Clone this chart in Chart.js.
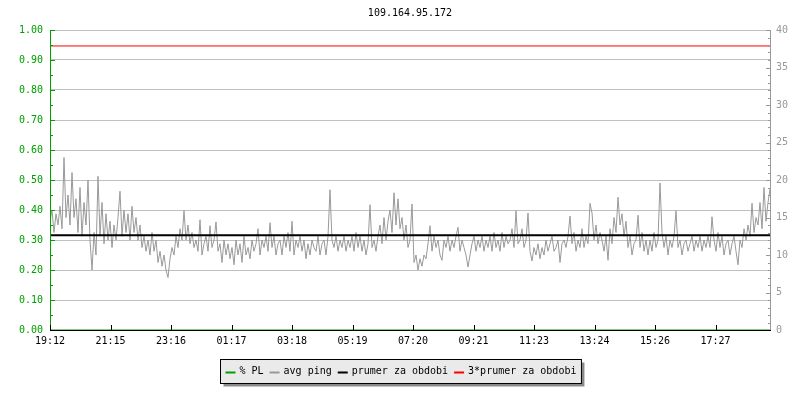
<!DOCTYPE html>
<html>
<head>
<meta charset="utf-8">
<script src="https://cdn.jsdelivr.net/npm/chart.js@4.4.0/dist/chart.umd.min.js"></script>
<style>
  html, body { margin: 0; padding: 0; background: #fff; }
  #wrap { width: 800px; height: 400px; }
</style>
</head>
<body>
<div id="wrap"><canvas id="c" width="800" height="400"></canvas></div>
<script>
const chartTitle = "109.164.95.172";

// x axis: minutes since 19:12, one ping sample every 4 minutes
const sampleMinutes = 4;
const xTickMinutes = [0, 121, 242, 363, 484, 605, 726, 847, 968, 1089, 1210, 1331];
const xTickLabels = ["19:12", "21:15", "23:16", "01:17", "03:18", "05:19",
                     "07:20", "09:21", "11:23", "13:24", "15:26", "17:27"];

// avg ping (ms), right axis
const pingValues = [
  14.5, 16, 13, 15.5, 14, 16.5, 13.5, 23, 15, 18,
  14, 21, 15, 17.5, 13, 19, 12.5, 17, 14, 20,
  12, 8, 13, 10, 20.5, 12.5, 17, 11.5, 15.5, 12,
  14.5, 11, 14, 12, 15, 18.5, 12.5, 16, 13, 15.5,
  12, 16.5, 13, 15, 12, 14, 11, 12.5, 10.5, 12,
  10, 13, 10.5, 12, 9, 10.5, 8.5, 10, 8, 7,
  9.5, 11, 10, 12.5, 11, 13.5, 12, 15.9, 12, 14,
  11.5, 13, 11, 12, 10.5, 14.7, 10, 11.5, 12.5, 10.5,
  13.9, 11, 12, 14.4, 10.5, 11.5, 9, 12, 10, 11.5,
  9.5, 11, 8.7, 12, 10, 11.5, 9, 12.5, 10, 11,
  9.5, 12, 10.5, 11.5, 13.5, 10, 12, 11, 12.5, 10.5,
  14.3, 11, 12.5, 10, 11.5, 12, 10, 12.5, 11, 13,
  10.5, 14.5, 10, 12, 11, 12.5, 10.5, 12, 9.5, 11.5,
  10, 12, 11, 10.5, 12.5, 10, 11.5, 12, 10, 12.5,
  18.7, 12, 11, 12.5, 10.5, 12, 11, 12.5, 10.5, 12,
  11, 12.5, 10.5, 13, 11, 12.5, 10.5, 12, 10, 11.5,
  16.7, 11, 12, 10.5, 12.5, 14, 11.5, 15, 12, 14.5,
  16, 13, 18.3, 14, 17.5, 13.5, 15, 12, 14, 11,
  12, 16.8, 9, 10, 8, 9.5, 8.5, 10, 9.5, 11.5,
  13.9, 10.5, 12.5, 11, 12, 10, 9.3, 12, 11, 12.5,
  10.5, 12, 11, 12.5, 13.7, 10.5, 12, 11, 10, 8.4,
  10, 11.5, 12.5, 10.5, 12, 11, 12.5, 10.5, 12, 11,
  12.5, 10.5, 13, 11, 12, 10.5, 13, 11, 12.5, 11.5,
  12, 13.5, 11, 15.9, 11.5, 12, 13.5, 11, 12, 15.6,
  10.5, 9.2, 11, 10, 11.5, 9.5, 11, 10, 12, 10.5,
  11.5, 12.5, 10.5, 11, 12, 9, 11.5, 12, 11, 12.5,
  15.2, 11.5, 13, 10.5, 12, 11, 13.5, 11, 12.5, 11.5,
  16.9, 15.6, 12, 14, 11.5, 13, 12, 10.5, 12.5, 9.3,
  13.5, 11.5, 15, 13, 17.7, 14, 15.5, 12.5, 14.5, 11,
  12.5, 10, 11.5, 12, 15.3, 11, 13, 10.5, 12, 10,
  12, 10.5, 13, 11, 12, 19.6, 13, 11, 12.5, 10,
  12, 11, 12.5, 15.9, 11, 12, 10, 11.5, 12, 10.5,
  11.5, 12.5, 10.5, 12, 11, 12.5, 10.5, 12, 11, 12.5,
  11, 15.1, 12, 10.5, 13, 11, 12.5, 10, 11.5, 12,
  10, 11.5, 12.5, 10.5, 8.7, 12, 11, 13.5, 12, 14,
  12.5, 16.9, 13, 15, 14, 17, 13.5, 19, 14.5, 17,
  18.8
];
// packet loss (fraction), left axis: none during the period
const plValues = [0, 0];
const meanPing = 12.62;
const tripleMeanPing = 37.87;
const xMax = 1440;

const pingData = pingValues.map((v, i) => ({ x: i * sampleMinutes, y: v }));
const plData = plValues.map((v, i) => ({ x: i * xMax, y: v }));

const GREEN = "#00a000";
const MONO = "'DejaVu Sans Mono', monospace";
Chart.defaults.font.family = MONO;
Chart.defaults.font.size = 10;

// axes lines, inner tick marks, title and boxed legend
const rrdFrame = {
  id: "rrdFrame",
  afterDraw(chart) {
    const { ctx, chartArea: a, scales } = chart;
    const yl = scales.yPL, yr = scales.yPing, x = scales.x;
    ctx.save();
    ctx.lineWidth = 1;

    // left axis (green)
    ctx.strokeStyle = GREEN;
    ctx.beginPath();
    ctx.moveTo(a.left + 0.5, a.top);
    ctx.lineTo(a.left + 0.5, a.bottom);
    for (let k = 0; k <= 20; k++) {
      const y = Math.round(yl.getPixelForValue(k / 20)) + 0.5;
      ctx.moveTo(a.left, y);
      ctx.lineTo(a.left + (k % 2 === 0 ? 5 : 3), y);
    }
    ctx.stroke();

    // right axis (gray)
    ctx.strokeStyle = "#999999";
    ctx.beginPath();
    ctx.moveTo(a.right + 0.5, a.top);
    ctx.lineTo(a.right + 0.5, a.bottom);
    for (let k = 0; k <= 40; k++) {
      const y = Math.round(yr.getPixelForValue(k)) + 0.5;
      ctx.moveTo(a.right + 1, y);
      ctx.lineTo(a.right + 1 - (k % 5 === 0 ? 5 : 3), y);
    }
    ctx.stroke();

    // bottom axis (black)
    ctx.strokeStyle = "#000";
    ctx.beginPath();
    ctx.moveTo(a.left, a.bottom + 0.5);
    ctx.lineTo(a.right + 1, a.bottom + 0.5);
    xTickMinutes.forEach(m => {
      const px = Math.round(x.getPixelForValue(m)) + 0.5;
      ctx.moveTo(px, a.bottom);
      ctx.lineTo(px, a.bottom - 5);
    });
    ctx.stroke();

    // title
    ctx.fillStyle = "#000";
    ctx.font = "10px " + MONO;
    ctx.textAlign = "center";
    ctx.textBaseline = "middle";
    ctx.fillText(chartTitle, (a.left + a.right) / 2, 13);

    // legend
    const items = chart.data.datasets.slice().sort((p, q) => p.legendIndex - q.legendIndex);
    const lineW = 10, gapIn = 4, gapOut = 6, pad = 5;
    let total = pad * 2;
    items.forEach((d, i) => {
      total += lineW + gapIn + ctx.measureText(d.label).width + (i ? gapOut : 0);
    });
    const bx = Math.round(400 - total / 2) + 0.5, by = 359.5, bh = 24;
    ctx.fillStyle = "#8a8a8a";
    ctx.fillRect(bx + 3, by + 3, total, bh);
    ctx.fillStyle = "#eaeaea";
    ctx.fillRect(bx, by, total, bh);
    ctx.strokeStyle = "#000";
    ctx.strokeRect(bx, by, total, bh);
    let cx = bx + pad;
    const cy = by + bh / 2;
    ctx.textAlign = "left";
    items.forEach(d => {
      ctx.strokeStyle = d.borderColor;
      ctx.lineWidth = 2;
      ctx.beginPath();
      ctx.moveTo(cx, cy + 1);
      ctx.lineTo(cx + lineW, cy + 1);
      ctx.stroke();
      cx += lineW + gapIn;
      ctx.fillStyle = "#000";
      ctx.fillText(d.label, cx, cy);
      cx += ctx.measureText(d.label).width + gapOut;
    });
    ctx.restore();
  }
};

new Chart(document.getElementById("c"), {
  type: "line",
  data: {
    datasets: [
      { label: "% PL", legendIndex: 0, data: plData, yAxisID: "yPL",
        borderColor: GREEN, borderWidth: 1, order: 0 },
      { label: "prumer za obdobi", legendIndex: 2, yAxisID: "yPing",
        data: [{ x: 0, y: meanPing }, { x: xMax, y: meanPing }],
        borderColor: "#000000", borderWidth: 2, order: 1 },
      { label: "3*prumer za obdobi", legendIndex: 3, yAxisID: "yPing",
        data: [{ x: 0, y: tripleMeanPing }, { x: xMax, y: tripleMeanPing }],
        borderColor: "#ff0000", borderWidth: 1, order: 1 },
      { label: "avg ping", legendIndex: 1, data: pingData, yAxisID: "yPing",
        borderColor: "#999999", borderWidth: 1, order: 3 }
    ]
  },
  options: {
    responsive: false,
    animation: false,
    devicePixelRatio: 1,
    layout: { padding: { top: 30 } },
    elements: { point: { radius: 0 }, line: { tension: 0 } },
    plugins: {
      legend: { display: false },
      title: { display: false },
      tooltip: { enabled: false }
    },
    scales: {
      x: {
        type: "linear",
        min: 0,
        max: xMax,
        grid: { display: false, drawTicks: false },
        border: { display: false },
        afterBuildTicks: s => { s.ticks = xTickMinutes.map(v => ({ value: v })); },
        afterFit: s => { s.height = 70; },
        ticks: {
          color: "#000",
          padding: 5,
          maxRotation: 0,
          autoSkip: false,
          callback: (v, i) => xTickLabels[i]
        }
      },
      yPL: {
        position: "left",
        min: 0,
        max: 1,
        afterFit: s => { s.width = 50; },
        grid: { color: "#c0c0c0", lineWidth: 1, drawTicks: false },
        border: { display: false },
        ticks: { stepSize: 0.1, color: GREEN, padding: 7, callback: v => v.toFixed(2) }
      },
      yPing: {
        position: "right",
        min: 0,
        max: 40,
        afterFit: s => { s.width = 30; },
        grid: { display: false, drawTicks: false },
        border: { display: false },
        ticks: { stepSize: 5, color: "#999999", padding: 6 }
      }
    }
  },
  plugins: [rrdFrame]
});
</script>
</body>
</html>
